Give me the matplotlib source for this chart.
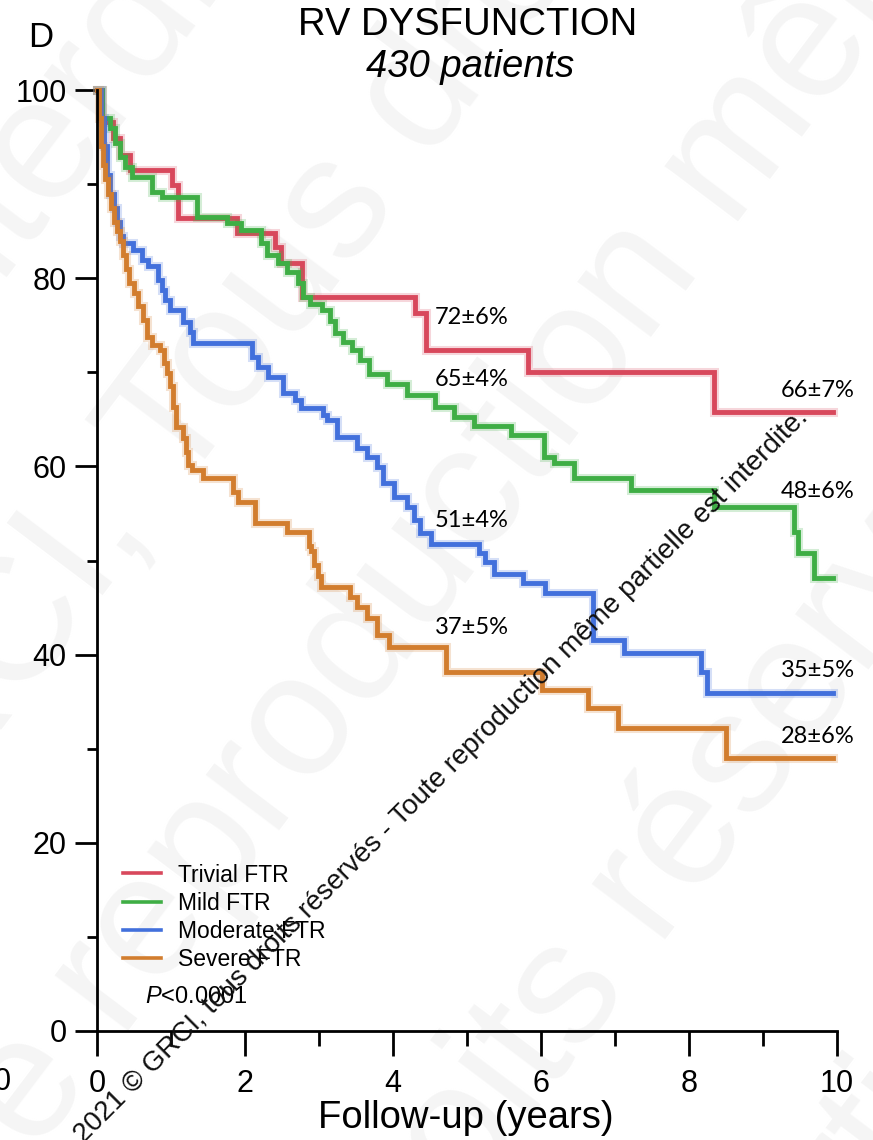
import matplotlib
matplotlib.use("Agg")
import matplotlib.pyplot as plt
from matplotlib.lines import Line2D

plt.rcParams["font.family"] = ["Liberation Sans", "DejaVu Sans"]
plt.rcParams["mathtext.fontset"] = "custom"
plt.rcParams["mathtext.rm"] = "Liberation Sans"
plt.rcParams["mathtext.it"] = "Liberation Sans:italic"

# survival curves (years, % event-free)
trivial_t = [0, 0.07, 0.22, 0.31, 0.45, 1.01, 1.10, 1.89, 2.41, 2.48, 2.77, 4.30, 4.44,
             5.82, 8.34, 9.95]
trivial_s = [100, 96.6, 94.9, 93.1, 91.5, 89.9, 86.4, 84.8, 83.3, 81.6, 78.0, 76.3, 72.4,
             70.0, 65.8, 65.8]

mild_t = [0, 0.07, 0.18, 0.24, 0.31, 0.38, 0.47, 0.74, 0.88, 1.35, 1.76, 1.94, 2.21, 2.30,
          2.44, 2.57, 2.71, 2.79, 2.88, 3.04, 3.15, 3.22, 3.33, 3.45, 3.56, 3.67, 3.92, 4.19,
          4.57, 4.82, 5.09, 5.59, 6.04, 6.17, 6.44, 7.21, 8.34, 9.42, 9.47, 9.69, 9.95]
mild_s = [100, 97.0, 96.0, 94.4, 92.9, 91.8, 90.8, 89.2, 88.6, 86.5, 85.9, 85.1, 83.7, 82.5,
          81.6, 80.7, 79.5, 78.0, 77.3, 76.6, 75.5, 74.2, 73.2, 72.4, 71.3, 69.8, 68.8, 67.6,
          66.3, 65.2, 64.3, 63.3, 61.0, 60.4, 58.8, 57.5, 55.7, 53.0, 50.8, 48.1, 48.1]

moderate_t = [0, 0.05, 0.09, 0.14, 0.18, 0.23, 0.27, 0.31, 0.35, 0.49, 0.61, 0.69, 0.83, 0.88,
              0.92, 0.99, 1.16, 1.26, 1.30, 2.10, 2.18, 2.31, 2.52, 2.68, 2.75, 3.06, 3.11,
              3.25, 3.52, 3.65, 3.79, 3.87, 4.01, 4.19, 4.28, 4.37, 4.51, 5.16, 5.25, 5.36,
              5.76, 6.06, 6.70, 7.12, 8.16, 8.25, 9.95]
moderate_s = [100, 97, 94, 91, 89, 87.5, 86, 84.5, 83.7, 83.0, 81.9, 81.3, 79.8, 78.7,
              77.7, 76.6, 75.3, 74.3, 73.1, 71.6, 70.6, 69.5, 67.8, 67.1, 66.2, 65.5, 64.9,
              63.1, 62.0, 61.0, 59.9, 58.2, 56.8, 55.7, 54.3, 52.9, 51.8, 50.8, 49.8, 48.6,
              47.6, 46.5, 41.5, 40.2, 38.2, 35.9, 35.9]

severe_t = [0, 0.03, 0.05, 0.08, 0.11, 0.15, 0.19, 0.23, 0.27, 0.31, 0.35, 0.39, 0.43, 0.50,
            0.55, 0.62, 0.68, 0.74, 0.85, 0.91, 0.95, 0.99, 1.03, 1.07, 1.16, 1.20, 1.23,
            1.29, 1.43, 1.84, 1.91, 2.14, 2.57, 2.86, 2.89, 2.93, 2.98, 3.03, 3.42, 3.52,
            3.65, 3.79, 3.94, 4.71, 6.02, 6.64, 7.04, 8.50, 9.95]
severe_s = [100, 97, 94, 92, 90.5, 89, 87.5, 86, 85, 84, 82.5, 81, 79.5, 78.4,
            77.0, 75.6, 73.8, 72.9, 72.4, 71.0, 69.9, 68.5, 66.3, 64.2, 63.0, 61.5, 60.2,
            59.6, 58.8, 57.3, 56.2, 54.0, 53.0, 51.5, 51.0, 49.5, 48.3, 47.2, 46.1, 45.1,
            43.9, 42.1, 40.8, 38.2, 36.2, 34.3, 32.2, 29.0, 29.0]

labels = ["Trivial FTR", "Mild FTR", "Moderate FTR", "Severe FTR"]
colors = ["#d8485c", "#3fae45", "#4270dc", "#d27d2e"]

# survival at 5 and 10 years written next to the curves
ann_5y = ["72±6%", "65±4%", "51±4%", "37±5%"]
ann_5y_y = [75.8, 69.2, 54.3, 42.9]
ann_10y = ["66±7%", "48±6%", "35±5%", "28±6%"]
ann_10y_y = [68.1, 57.3, 38.3, 31.3]

curves = [(trivial_t, trivial_s), (mild_t, mild_s), (moderate_t, moderate_s),
          (severe_t, severe_s)]

fig = plt.figure(figsize=(8.73, 11.40), dpi=100)

# faint background watermark
wm = dict(fontsize=125, color="#f5f5f5", rotation=53, ha="center", va="center",
          rotation_mode="anchor", zorder=-5)
fig.text(0.10, 0.93, "interdite", **wm)
fig.text(0.27, 0.70, "GRCI, Tous droits", **wm)
fig.text(0.45, 0.47, "Toute reproduction même", **wm)
fig.text(0.78, 0.26, "droits réservés", **wm)
fig.text(1.02, 0.03, "partielle", **wm)

ax = fig.add_axes([97 / 873, 1 - 1031 / 1140, 740 / 873, 941 / 1140])
ax.patch.set_alpha(0)

for (t, s), c in zip(curves, colors):
    ax.step(t, s, where="post", color=c, lw=6.5, alpha=0.22, clip_on=False,
            solid_joinstyle="miter")
    ax.step(t, s, where="post", color=c, lw=3.5, clip_on=False,
            solid_joinstyle="miter")

for txt, y in zip(ann_5y, ann_5y_y):
    ax.text(4.57, y, txt, fontsize=17, family="Lato", ha="left", va="center")
for txt, y in zip(ann_10y, ann_10y_y):
    ax.text(9.24, y, txt, fontsize=17, family="Lato", ha="left", va="center")

handles = [Line2D([], [], color=c, lw=2.6) for c in colors]
ax.legend(handles, labels, loc="upper left", bbox_to_anchor=(0.035, 0.178),
          frameon=False, fontsize=16.5, handlelength=1.65, handletextpad=0.75,
          labelspacing=0.22, borderpad=0, borderaxespad=0)
ax.text(0.65, 3.6, r"$P$<0.0001", fontsize=17, ha="left", va="center")

ax.set_xlim(0, 10)
ax.set_ylim(0, 100)
ax.set_xticks([0, 2, 4, 6, 8, 10])
ax.set_xticks([1, 3, 5, 7, 9], minor=True)
ax.set_yticks([0, 20, 40, 60, 80, 100])
ax.set_yticks([10, 30, 50, 70, 90], minor=True)
for side in ["top", "right"]:
    ax.spines[side].set_visible(False)
for side in ["left", "bottom"]:
    ax.spines[side].set_linewidth(2)
ax.tick_params(axis="x", which="major", length=18, width=2, pad=9, labelsize=22)
ax.tick_params(axis="x", which="minor", length=11, width=2)
ax.tick_params(axis="y", which="major", length=16, width=2, pad=6, labelsize=22)
ax.tick_params(axis="y", which="minor", length=7, width=2)

fig.text(466 / 873, 1 - 1128 / 1140, "Follow-up (years)", fontsize=27.5,
         ha="center", va="baseline")
fig.text(468 / 873, 1 - 35 / 1140, "RV DYSFUNCTION", fontsize=27.5,
         ha="center", va="baseline")
fig.text(470 / 873, 1 - 77 / 1140, "430 patients", fontsize=27.5, style="italic",
         ha="center", va="baseline")
fig.text(28 / 873, 1 - 47 / 1140, "D", fontsize=25, ha="left", va="baseline")
fig.text(2 / 873, 1 - 1082 / 1140, "0", fontsize=22, ha="center", va="center")

fig.text(441 / 873, 1 - 776 / 1140,
         "2021 © GRCI, tous droits réservés - Toute reproduction même partielle est interdite.",
         fontsize=20, rotation=45, rotation_mode="anchor", ha="center", va="center",
         color="#111111")

fig.savefig("out.png", dpi=100)
